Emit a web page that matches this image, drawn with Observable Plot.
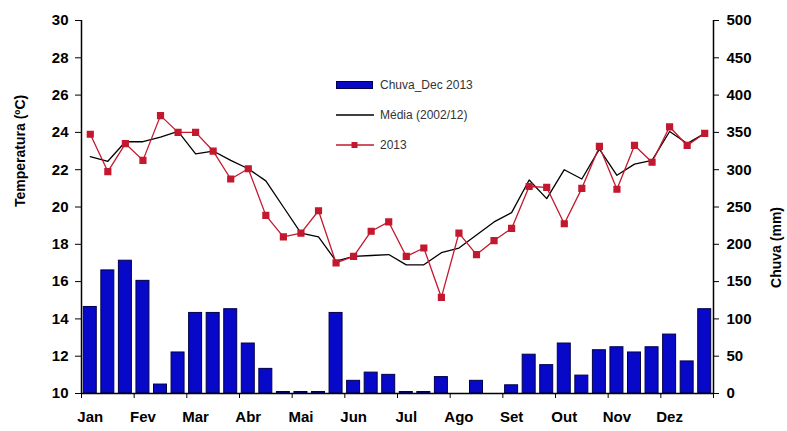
<!DOCTYPE html>
<html><head><meta charset="utf-8">
<script src="https://cdn.jsdelivr.net/npm/d3@7"></script>
<script src="https://cdn.jsdelivr.net/npm/@observablehq/plot@0.6"></script>
<style>
body{margin:0;background:#fff;}
#wrap{position:relative;width:787px;height:431px;overflow:hidden;}
#legend{position:absolute;left:336px;top:70px;font:12px "Liberation Sans",Arial,sans-serif;color:#333;}
#legend .row{display:flex;align-items:center;height:30px;}
#legend svg{margin-right:6px;}
</style></head><body><div id="wrap"></div>
<script>
const months = ["Jan","Fev","Mar","Abr","Mai","Jun","Jul","Ago","Set","Out","Nov","Dez"];
const chuva2013 = [116,165,178,151,12,55,108,108,113,67,33,2,2,2,108,17,28,25,2,2,22,0,17,0,11,52,38,67,24,58,62,55,62,79,43,113];
const media = [22.7,22.45,23.5,23.5,23.75,24.05,22.85,23.0,22.5,22.05,21.4,20.0,18.6,18.4,17.1,17.35,17.4,17.45,16.9,16.9,17.55,17.8,18.5,19.2,19.7,21.45,20.45,22.0,21.5,23.1,21.7,22.3,22.5,24.05,23.4,23.95];
const temp2013 = [23.9,21.9,23.4,22.5,24.9,24.0,24.0,23.0,21.5,22.05,19.55,18.4,18.6,19.8,17.0,17.35,18.7,19.2,17.35,17.8,15.15,18.6,17.45,18.2,18.85,21.1,21.05,19.1,21.0,23.25,20.95,23.3,22.4,24.3,23.3,23.95];
const tempTicks = [10,12,14,16,18,20,22,24,26,28,30];
const rainTicks = [0,50,100,150,200,250,300,350,400,450,500];
const seriesNames = ["Chuva_Dec 2013","Média (2002/12)","2013"];
const yLabel = "Temperatura (ºC)";
const y2Label = "Chuva (mm)";

const rainToT = r => 10 + r / 25;
const rows = chuva2013.map((r, i) => ({i, rain: r, media: media[i], t: temp2013[i]}));
const boundaries = d3.range(0, 37, 3);
const labelPos = months.map((m, k) => k * 3 + 0.5);

const blue = "#0808c8", red = "#c3182e";
const font = "'Liberation Sans', Arial, sans-serif";

const chart = Plot.plot({
  width: 787, height: 431,
  marginLeft: 81, marginRight: 74, marginTop: 20, marginBottom: 38,
  style: {fontFamily: font, fontSize: "15px", fontWeight: "bold", color: "black", background: "white"},
  x: {domain: [0, 36]},
  y: {domain: [10, 30]},
  marks: [
    Plot.rectY(rows, {x1: d => d.i + 0.13, x2: d => d.i + 0.87, y1: 10, y2: d => rainToT(d.rain), fill: blue, stroke: "#00004a", strokeWidth: 1}),
    Plot.line(rows, {x: d => d.i + 0.5, y: "media", stroke: "black", strokeWidth: 1.3}),
    Plot.line(rows, {x: d => d.i + 0.5, y: "t", stroke: red, strokeWidth: 1.3}),
    Plot.dot(rows, {x: d => d.i + 0.5, y: "t", symbol: "square", r: 3.2, fill: red, stroke: red}),
    Plot.ruleX([0, 36], {stroke: "black", strokeWidth: 1.5}),
    Plot.ruleY([10], {stroke: "black", strokeWidth: 1.5}),
    Plot.axisY({ticks: tempTicks, tickSize: 6, tickPadding: 7, label: null}),
    Plot.axisY({anchor: "right", ticks: rainTicks.map(rainToT), tickFormat: d => Math.round((d - 10) * 25), tickSize: 5, tickPadding: 8, label: null}),
    Plot.axisX({ticks: boundaries, tickFormat: () => "", tickSize: 5, label: null}),
    Plot.axisX({ticks: labelPos, tickFormat: d => months[Math.floor(d / 3)], tickSize: 0, tickPadding: 18, label: null}),
    Plot.text([yLabel], {frameAnchor: "left", dx: -61, rotate: -90, fontSize: 14, fontWeight: "bold", fill: "black"}),
    Plot.text([y2Label], {frameAnchor: "right", dx: 63, rotate: -90, fontSize: 14, fontWeight: "bold", fill: "black"})
  ]
});
document.getElementById("wrap").appendChild(chart);

const legend = document.createElement("div");
legend.id = "legend";
const sw = [
  `<svg width="38" height="10"><rect x="0.5" y="1.5" width="36" height="7" fill="${blue}" stroke="#00004a"/></svg>`,
  `<svg width="38" height="10"><line x1="0" x2="38" y1="5" y2="5" stroke="black" stroke-width="1.3"/></svg>`,
  `<svg width="38" height="10"><line x1="0" x2="38" y1="5" y2="5" stroke="${red}" stroke-width="1.3"/><rect x="15.5" y="2" width="6" height="6" fill="${red}"/></svg>`
];
legend.innerHTML = seriesNames.map((n, k) => `<div class="row">${sw[k]}<span>${n}</span></div>`).join("");
document.getElementById("wrap").appendChild(legend);
</script>
</body></html>
